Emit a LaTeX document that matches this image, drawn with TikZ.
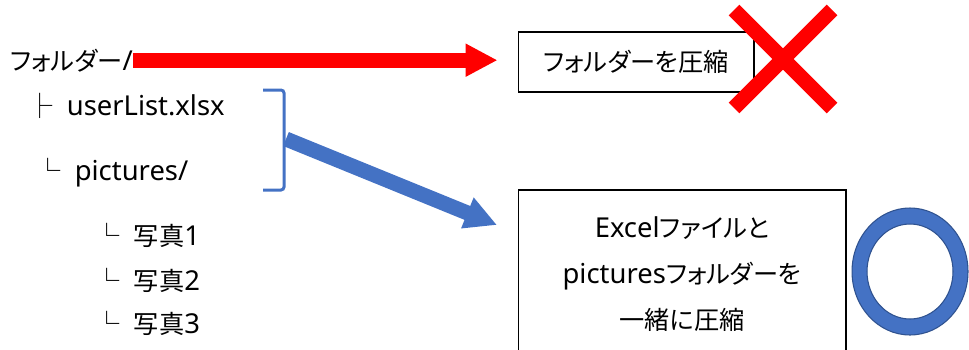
\documentclass[tikz,border=0pt]{standalone}
\usepackage{fontspec}
\setmainfont{Noto Sans}
\newfontfamily\jp{Noto Sans CJK JP}[RawFeature=+palt, Scale=0.92]
\usetikzlibrary{positioning,arrows.meta}
\definecolor{accblue}{HTML}{4472C4}
\definecolor{ringedge}{HTML}{2F528F}

\begin{document}
\begin{tikzpicture}[x=0.02cm, y=-0.02cm, font=\fontsize{15.6pt}{26pt}\selectfont,
 item/.style={anchor=base west, inner sep=0pt},
 box/.style={draw, line width=0.6pt, inner sep=0pt, align=center},
 fat/.style={line width=0.3cm, -{Triangle[length=0.64cm, width=0.62cm]}}]

\useasboundingbox (0,0) rectangle (969,349);

% tree
\node[item] (folder) at (10,70) {{\jp フォルダー}/};
\node[item] (xlsx) at (27,115) {{\jp ├}\ \ userList.xlsx};
\node[item] (pics) at (35,180) {{\jp └}\ \ pictures/};
\node[item] (photo1) at (94,245) {{\jp └}\ \ {\jp 写真}1};
\node[item] (photo2) at (94,290) {{\jp └}\ \ {\jp 写真}2};
\node[item] (photo3) at (94,333) {{\jp └}\ \ {\jp 写真}3};

% results
\node[box, minimum width=4.72cm, minimum height=1.2cm] (zipfolder) at (636,62) {\jp フォルダーを圧縮};
\node[box, minimum width=6.56cm, minimum height=3.36cm] (zipboth) at (682,274)
 {Excel{\jp ファイルと}\\pictures{\jp フォルダーを}\\{\jp 一緒に圧縮}};

% bracket round the two items
\draw[accblue, line width=0.06cm, rounded corners=0.06cm] (263,90) -- (284,90) -- (284,190) -- (263,190);
\coordinate (brk) at (286,139);
\coordinate (bluetip) at (497,225);

\draw[fat, red, shorten >=0.4cm] (folder.east) -- (folder.east -| zipfolder.west);
\draw[fat, accblue] (brk) -- (bluetip);

% marks
\coordinate (cross) at (783,59);
\draw[red, line width=0.3cm] (cross) +(-49,-49) -- +(49,49) (cross) +(49,-49) -- +(-49,49);
\draw[ringedge, fill=accblue, even odd rule, line width=0.6pt]
 (910,271.5) ellipse [x radius=1.16cm, y radius=1.27cm]
 (910,271.5) ellipse [x radius=0.86cm, y radius=0.95cm];
\end{tikzpicture}
\end{document}
